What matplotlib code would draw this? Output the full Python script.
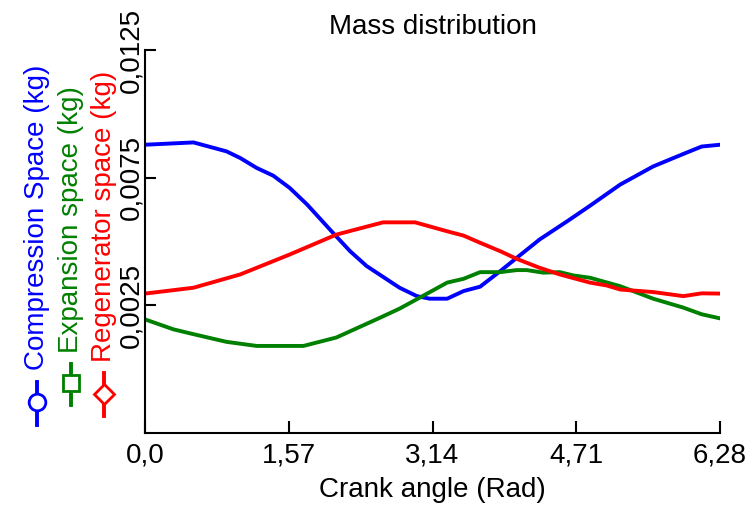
import numpy as np
import matplotlib
matplotlib.use("Agg")
import matplotlib.pyplot as plt
from matplotlib.lines import Line2D

plt.rcParams['font.family'] = ['Liberation Sans', 'DejaVu Sans']

# data
x_comp = [0.0, 0.53, 0.89, 1.04, 1.22, 1.40, 1.58, 1.77, 2.05, 2.24, 2.42, 2.78, 2.97,
          3.11, 3.30, 3.48, 3.66, 3.88, 4.06, 4.31, 4.61, 4.86, 5.19, 5.55, 5.88, 6.08, 6.28]
y_comp = [0.00879, 0.00888, 0.00853, 0.00827, 0.00788, 0.00758, 0.00710, 0.00645, 0.00535,
          0.00462, 0.00404, 0.00319, 0.00286, 0.00276, 0.00276, 0.00306, 0.00323, 0.00384,
          0.00436, 0.00508, 0.00579, 0.00640, 0.00723, 0.00794, 0.00843, 0.00872, 0.00879]

x_exp = [0.0, 0.31, 0.53, 0.89, 1.22, 1.73, 2.09, 2.57, 2.78, 3.0, 3.30, 3.48, 3.66, 3.88,
         4.06, 4.17, 4.35, 4.53, 4.68, 4.86, 5.19, 5.55, 5.88, 6.08, 6.28]
y_exp = [0.00195, 0.00156, 0.00137, 0.00107, 0.00091, 0.00091, 0.00124, 0.00202, 0.00237,
         0.00280, 0.00339, 0.00354, 0.00380, 0.00380, 0.00388, 0.00388, 0.00378, 0.00380,
         0.00367, 0.00358, 0.00325, 0.00276, 0.00241, 0.00215, 0.00199]

x_reg = [0.0, 0.53, 1.04, 1.58, 2.09, 2.60, 2.95, 3.30, 3.48, 3.66, 3.88, 4.06, 4.31, 4.53,
         4.86, 5.04, 5.19, 5.55, 5.88, 6.08, 6.28]
y_reg = [0.00296, 0.00319, 0.00371, 0.00449, 0.00527, 0.00575, 0.00575, 0.00540, 0.00523,
         0.00495, 0.00462, 0.00432, 0.00397, 0.00371, 0.00339, 0.00328, 0.00312, 0.00302,
         0.00286, 0.00297, 0.00296]

x_ticks = [0.0, 1.57, 3.14, 4.71, 6.28]
x_ticklabels = ['0,0', '1,57', '3,14', '4,71', '6,28']
y_ticks = [0.0025, 0.0075, 0.0125]
y_ticklabels = ['0,0025', '0,0075', '0,0125']

W, H = 752, 508
fs = 20
fig = plt.figure(figsize=(W / 100, H / 100), dpi=100)
ax = fig.add_axes([145 / W, 1 - 433 / H, (720 - 145) / W, (433 - 50) / H])

lw = 2.8
ax.plot(x_comp, y_comp, color='#0000ff', lw=lw)
ax.plot(x_exp, y_exp, color='#008000', lw=lw)
ax.plot(x_reg, y_reg, color='#ff0000', lw=lw)

ax.set_xlim(0, 6.28)
ax.set_ylim(-0.0025, 0.0125)
ax.spines['top'].set_visible(False)
ax.spines['right'].set_visible(False)
ax.spines['left'].set_linewidth(1.5)
ax.spines['bottom'].set_linewidth(1.5)

ax.set_xticks(x_ticks)
ax.set_xticklabels(x_ticklabels, fontsize=fs)
ax.set_yticks(y_ticks)
ax.set_yticklabels(y_ticklabels, fontsize=fs, rotation=90, va='center')
ax.tick_params(axis='x', direction='in', length=9, width=1.5, pad=7)
ax.tick_params(axis='y', direction='in', length=8, width=1.5, pad=0.5)
ax.set_xlabel('Crank angle (Rad)', fontsize=fs, labelpad=6)

fig.text(433 / W, 1 - 27 / H, 'Mass distribution', fontsize=fs, ha='center', va='center')

# stacked y labels with legend glyphs
labels = [('Compression Space (kg)', '#0000ff', 37, 370, 'o', 12, 382, 425, 402),
          ('Expansion space (kg)', '#008000', 71, 353, 's', 11, 364, 405, 383),
          ('Regenerator space (kg)', '#ff0000', 104, 362, 'D', 10, 373, 416, 394)]
for text, col, xc, ybot, mk, ms, y0, y1, ym in labels:
    fig.text(xc / W, 1 - ybot / H, text, color=col, fontsize=fs, rotation=90,
             ha='center', va='bottom')
    fig.add_artist(Line2D([xc / W, xc / W], [1 - y0 / H, 1 - y1 / H],
                          transform=fig.transFigure, color=col, lw=lw))
    fig.add_artist(Line2D([xc / W], [1 - ym / H], transform=fig.transFigure,
                          marker=mk, markersize=ms, markerfacecolor='white',
                          markeredgecolor=col, markeredgewidth=2, color=col))

fig.savefig('out.png', dpi=100)
